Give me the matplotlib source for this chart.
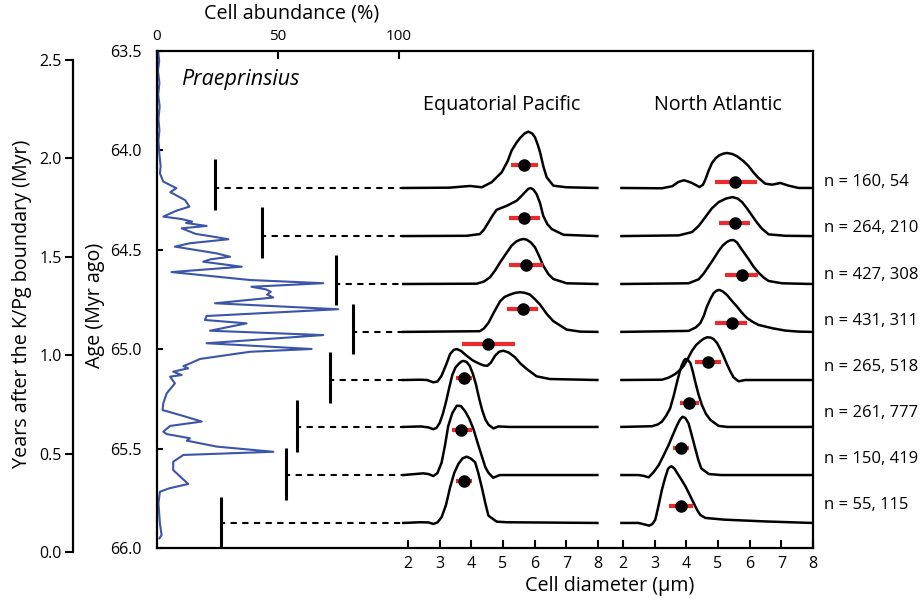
import numpy as np
import matplotlib
matplotlib.use("Agg")
import matplotlib.pyplot as plt

plt.rcParams['font.family'] = ['Open Sans', 'DejaVu Sans']

# --- abundance record (left panel) ---
abund_age = [63.50, 63.55, 63.60, 63.66, 63.72, 63.78, 63.84, 63.90, 63.95, 64.02,
             64.08, 64.115, 64.157, 64.190, 64.210, 64.250, 64.283, 64.303, 64.333,
             64.345, 64.358, 64.365, 64.380, 64.392, 64.420, 64.434, 64.447, 64.467,
             64.484, 64.518, 64.535, 64.548, 64.560, 64.585, 64.612, 64.652, 64.668,
             64.686, 64.699, 64.711, 64.725, 64.740, 64.769, 64.799, 64.833, 64.853,
             64.870, 64.907, 64.929, 64.970, 64.999, 65.013, 65.049, 65.068, 65.085,
             65.096, 65.113, 65.130, 65.138, 65.172, 65.222, 65.272, 65.306, 65.336,
             65.364, 65.386, 65.415, 65.427, 65.448, 65.460, 65.490, 65.516, 65.532,
             65.566, 65.608, 65.678, 65.700, 65.717, 65.775, 65.876, 65.935, 65.951]
abund_pct = [0.5, 0.9, 0.4, 1.0, 0.5, 1.1, 0.6, 1.0, 0.6, 1.0,
             1.5, 1.2, 2.6, 8.0, 5.5, 11.6, 13.4, 8.1, 2.6,
             10.0, 14.5, 12.0, 20.5, 10.2, 16.0, 23.3, 29.5, 13.6,
             7.4, 24.7, 30.2, 22.0, 19.1, 35.0, 6.0, 38.4, 68.7,
             39.0, 45.0, 47.0, 45.5, 48.0, 24.0, 74.9, 20.5, 19.8,
             37.0, 21.9, 68.7, 20.5, 63.9, 38.4, 17.8, 14.3, 10.9,
             12.9, 6.7, 10.2, 5.4, 7.4, 4.0, 2.6, 2.3, 10.9,
             18.5, 5.4, 2.6, 4.0, 13.6, 12.3, 24.7, 48.1, 10.9,
             6.7, 6.7, 12.9, 5.0, 1.2, 0.6, 1.2, 1.9, 1.0]

# --- samples ---
sample_age = [64.189, 64.431, 64.672, 64.913, 65.155, 65.391, 65.633, 65.874]
sample_abund = [24.0, 43.4, 74.0, 81.0, 71.5, 57.8, 53.3, 26.4]
bar_top = [64.043, 64.285, 64.526, 64.773, 65.014, 65.256, 65.497, 65.743]
bar_bot = [64.300, 64.541, 64.778, 65.024, 65.271, 65.517, 65.759, 66.000]
n_labels = ["n = 160, 54", "n = 264, 210", "n = 427, 308", "n = 431, 311",
            "n = 265, 518", "n = 261, 777", "n = 150, 419", "n = 55, 115"]

# --- size distributions, Equatorial Pacific (diameter um, density a.u.) ---
ep_x = [
    [1.85, 3.3, 3.96, 4.33, 4.64, 4.96, 5.15, 5.27, 5.42, 5.54, 5.68, 5.80, 5.92, 6.01, 6.10, 6.17, 6.28, 6.38, 6.59, 7.0, 7.98],
    [1.85, 3.85, 4.27, 4.40, 4.54, 4.68, 4.80, 5.12, 5.43, 5.58, 5.69, 5.80, 5.87, 5.96, 6.06, 6.17, 6.27, 6.40, 6.54, 6.91, 7.98],
    [1.85, 4.17, 4.40, 4.59, 4.75, 4.91, 5.10, 5.27, 5.42, 5.54, 5.65, 5.75, 5.88, 6.01, 6.14, 6.27, 6.43, 6.59, 7.01, 7.98],
    [1.85, 4.27, 4.40, 4.54, 4.72, 4.91, 5.05, 5.22, 5.38, 5.54, 5.70, 5.85, 6.00, 6.17, 6.38, 6.59, 7.01, 7.43, 7.98],
    [1.85, 2.38, 2.60, 2.80, 2.93, 3.06, 3.20, 3.33, 3.44, 3.54, 3.68, 3.85, 4.05, 4.27, 4.40, 4.51, 4.62, 4.75, 4.88, 5.01, 5.18, 5.38, 5.55, 5.75, 6.06, 6.48, 7.98],
    [1.85, 2.4, 2.65, 2.8, 2.9, 3.0, 3.1, 3.2, 3.3, 3.4, 3.5, 3.6, 3.68, 3.75, 3.85, 3.95, 4.05, 4.15, 4.25, 4.35, 4.45, 4.55, 4.7, 4.85, 5.2, 7.98],
    [1.85, 2.48, 2.65, 2.80, 2.93, 3.06, 3.17, 3.27, 3.40, 3.54, 3.67, 3.80, 3.94, 4.07, 4.20, 4.33, 4.44, 4.54, 4.69, 4.90, 7.98],
    [1.85, 2.38, 2.65, 2.80, 2.93, 3.06, 3.20, 3.33, 3.46, 3.59, 3.72, 3.85, 3.98, 4.12, 4.22, 4.33, 4.44, 4.54, 4.80, 5.12, 7.98],
]
ep_h = [
    [0, 0.3, 2, 0.7, 5.7, 15.7, 27, 37.3, 45, 50, 54.5, 56.3, 54.5, 50.7, 43, 35.7, 21, 10.7, 2.3, 0.7, 0],
    [0, 0.3, 2, 6.5, 13.7, 21, 26.3, 30.3, 35.3, 40, 43.7, 47.3, 48, 46.5, 42, 33, 20.3, 12, 7, 1.3, 0],
    [0, 0.3, 2.5, 6.7, 13.5, 21.7, 30.5, 38.3, 42.5, 44.3, 45, 44.3, 41.5, 36.7, 28, 18.3, 10, 5, 0.7, 0],
    [0, 0.7, 3.5, 9, 20, 30.7, 35, 37.3, 39, 39.7, 39, 37.3, 33, 27.3, 18, 10.7, 2.3, 0.3, 0],
    [0, 0.3, 0, -2.3, -1.5, 4.3, 15, 26, 30, 31, 29, 24.3, 19.5, 16, 14.5, 14.3, 17.5, 24.3, 28.3, 29.3, 27.5, 22.7, 16.5, 11, 3.7, 1, 0],
    [0, 0.5, -0.5, -2.3, -1, 4, 13, 25, 39, 52, 59.5, 63, 65.3, 66, 65, 61, 53, 42, 28, 16, 7, 2, -1.5, 0.5, 0, 0],
    [0, 1.7, 1.0, -1, 2, 12.3, 30, 49, 62, 69.3, 69, 64, 56, 45.7, 32, 19, 8, 2.3, -2.7, 0, 0],
    [0, 0.7, 0.5, -1, 0.5, 5.7, 18, 35.7, 50, 59, 64.5, 66.3, 64.5, 60.7, 50, 35.7, 20, 7.3, 1.3, 0.7, 0],
]
ep_mean = [5.67, 5.67, 5.72, 5.64, 4.54, 3.77, 3.66, 3.77]
ep_lo = [5.25, 5.20, 5.20, 5.12, 3.69, 3.52, 3.38, 3.52]
ep_hi = [6.12, 6.17, 6.25, 6.12, 5.38, 4.01, 4.01, 4.01]
ep_dot_h = [23.3, 18.3, 19.3, 23.0, 36.0, 49.3, 44.7, 41.7]

# --- size distributions, North Atlantic ---
na_x = [
    [1.95, 3.23, 3.55, 3.75, 3.92, 4.05, 4.18, 4.41, 4.52, 4.60, 4.70, 4.81, 4.92, 5.02, 5.15, 5.28, 5.45, 5.60, 5.80, 5.97, 6.12, 6.28, 6.49, 6.71, 6.97, 7.23, 7.55, 7.97],
    [1.95, 3.76, 4.18, 4.40, 4.60, 4.80, 5.02, 5.25, 5.46, 5.62, 5.76, 5.92, 6.07, 6.23, 6.39, 6.60, 7.13, 7.97],
    [1.95, 4.07, 4.39, 4.55, 4.71, 4.87, 5.02, 5.15, 5.28, 5.39, 5.49, 5.60, 5.71, 5.84, 5.97, 6.12, 6.28, 6.44, 6.60, 7.02, 7.97],
    [1.95, 4.07, 4.30, 4.44, 4.55, 4.65, 4.76, 4.86, 4.95, 5.04, 5.15, 5.28, 5.44, 5.60, 5.76, 5.92, 6.10, 6.28, 6.71, 7.13, 7.55, 7.97],
    [1.95, 3.23, 3.45, 3.65, 3.80, 3.92, 4.05, 4.18, 4.31, 4.44, 4.55, 4.65, 4.76, 4.86, 4.97, 5.07, 5.18, 5.28, 5.39, 5.49, 5.65, 5.86, 7.97],
    [1.95, 2.92, 3.10, 3.23, 3.36, 3.49, 3.60, 3.71, 3.79, 3.86, 3.92, 3.97, 4.05, 4.13, 4.20, 4.28, 4.38, 4.49, 4.62, 4.76, 5.02, 5.3, 7.97],
    [1.95, 2.49, 2.65, 2.81, 2.97, 3.13, 3.28, 3.44, 3.58, 3.71, 3.80, 3.88, 3.97, 4.07, 4.17, 4.28, 4.38, 4.47, 4.71, 5.1, 7.97],
    [1.95, 2.49, 2.68, 2.83, 2.93, 3.02, 3.12, 3.23, 3.33, 3.42, 3.48, 3.53, 3.62, 3.71, 3.84, 3.97, 4.10, 4.23, 4.34, 4.44, 4.6, 5.2, 6.5, 7.97],
]
na_h = [
    [0, -0.3, 1.7, 6, 7.7, 6.5, 5, 1, 3, 8.3, 17, 25, 29.5, 32.3, 34.2, 35, 34, 31.7, 27, 21.7, 15.5, 10, 4.3, 3.3, 5, 2.3, 0, 0],
    [0, 0.7, 4, 10.5, 19, 27.5, 34, 37.5, 39, 37.5, 34, 27.5, 20.7, 13.5, 7.3, 1.7, 0.3, 0],
    [0, 0.7, 4.7, 10.5, 18, 25.5, 33, 38.5, 42, 43.7, 44, 41.5, 36.3, 30.5, 24.7, 17.5, 11.3, 6.5, 3, 0.7, 0],
    [0, 1, 4.5, 8.7, 16, 25.3, 33, 38.7, 41.2, 42, 40.5, 37, 31, 25.3, 19, 13.7, 10, 7, 3.7, 1.3, 0.3, 0],
    [0, 0.3, 2.5, 6, 10, 14.3, 21.5, 29.3, 35, 38.7, 41.3, 42.7, 42.5, 41, 37, 31, 23.5, 16, 8.5, 2.7, -1.3, 0, 0],
    [0, 0.7, 2.5, 5.3, 11, 18.7, 31, 45.3, 55, 62, 66, 68, 67, 63.7, 56, 45.3, 33, 22, 13, 7, 1, 0, 0],
    [0, 0, -0.8, -2.3, 3, 10, 19.5, 30, 40.5, 50, 55.5, 58.3, 57, 51.7, 40, 26.7, 15, 6.7, 1, 0, 0],
    [0, 0, -1.5, -2.7, -1, 3.3, 17, 33.3, 45, 54, 56, 56.7, 54.5, 50, 43.5, 36.7, 28.5, 20, 13, 8, 5, 3.3, 1.5, 0],
]
na_mean = [5.55, 5.53, 5.76, 5.44, 4.68, 4.09, 3.82, 3.83]
na_lo = [4.92, 5.04, 5.23, 4.92, 4.28, 3.81, 3.57, 3.46]
na_hi = [6.23, 6.00, 6.25, 5.92, 5.11, 4.39, 4.07, 4.20]
na_dot_h = [6.0, 13.3, 9.3, 8.7, 18.3, 23.7, 27.3, 17.3]

dens_scale = 1 / 198.8   # Myr per density unit on the age axis

blue = '#3b55a8'
red = '#ec2a2e'
tick_fs = 11.5
label_fs = 14.2

fig = plt.figure(figsize=(9.22, 6.01), dpi=100)
W, H = 922.0, 601.0

# main panel (age vs abundance)
ax = fig.add_axes([157 / W, 1 - 548 / H, 656 / W, 497 / H])
ax.set_xlim(0, 656 / 2.42)
ax.set_ylim(66.0, 63.5)
ax.xaxis.set_ticks_position('top')
ax.set_xticks([0, 50, 100])
ax.set_yticks([63.5, 64.0, 64.5, 65.0, 65.5, 66.0])
ax.set_yticklabels(['%.1f' % v for v in ax.get_yticks()])
ax.tick_params(axis='x', direction='in', length=6, width=1.5, labelsize=11, pad=5)
ax.tick_params(axis='y', direction='in', length=4, width=1.5, labelsize=tick_fs, pad=11)
for s in ax.spines.values():
    s.set_linewidth(1.6)

ax.plot(abund_pct, abund_age, color=blue, lw=1.5)

# where the size panels start, in abundance units
x_end = (403 - 157) / 2.42
for a, x, t, b in zip(sample_age, sample_abund, bar_top, bar_bot):
    ax.plot([x, x], [t, b], color='k', lw=2.2, solid_capstyle='butt')
    ax.plot([x, x_end], [a, a], color='k', lw=1.5, ls=(1, (3, 2.6)))

fig.text(292 / W, 1 - 14 / H, 'Cell abundance (%)', fontsize=label_fs, ha='center', va='center')
fig.text(95 / W, 1 - 305 / H, 'Age (Myr ago)', rotation=90, fontsize=label_fs,
         ha='center', va='center')
fig.text(181 / W, 1 - 79 / H, 'Praeprinsius', fontsize=15.5, style='italic',
         va='center', ha='left')

# years-after-boundary axis
ay = fig.add_axes([73 / W, 1 - 552 / H, 0.001, 492 / H])
ay.set_ylim(0, 2.5)
ay.set_yticks([0, 0.5, 1.0, 1.5, 2.0, 2.5])
ay.set_yticklabels(['%.1f' % v for v in ay.get_yticks()])
ay.set_xticks([])
ay.patch.set_visible(False)
for k in ['top', 'right', 'bottom']:
    ay.spines[k].set_visible(False)
ay.spines['left'].set_linewidth(1.6)
ay.tick_params(axis='y', direction='out', length=6, width=1.5, labelsize=tick_fs, pad=2)
fig.text(22 / W, 1 - 304 / H, 'Years after the K/Pg boundary (Myr)', rotation=90,
         fontsize=label_fs, ha='center', va='center')

# size-distribution panels
panels = [(408, ep_x, ep_h, ep_mean, ep_lo, ep_hi, ep_dot_h, 'Equatorial Pacific', 502),
          (623, na_x, na_h, na_mean, na_lo, na_hi, na_dot_h, 'North Atlantic', 718)]
for left, xs, hs, means, los, his, dhs, title, tx in panels:
    ap = fig.add_axes([left / W, 1 - 548 / H, 190 / W, 497 / H])
    ap.set_xlim(2, 8)
    ap.set_ylim(66.0, 63.5)
    ap.patch.set_visible(False)
    for s in ap.spines.values():
        s.set_visible(False)
    ap.set_yticks([])
    ap.set_xticks(range(2, 9))
    ap.tick_params(axis='x', direction='in', length=6, width=1.5, labelsize=tick_fs, pad=6)
    for a, x, h, m, lo, hi, dh in zip(sample_age, xs, hs, means, los, his, dhs):
        ap.plot(x, [a - v * dens_scale for v in h], color='k', lw=1.8, clip_on=False)
        yd = a - dh * dens_scale
        ap.plot([lo, hi], [yd, yd], color=red, lw=3, solid_capstyle='butt', zorder=3)
        ap.plot([m], [yd], 'o', color='k', ms=8, zorder=4)
    fig.text(tx / W, 1 - 105 / H, title, fontsize=label_fs, ha='center', va='center')
    if left == 623:
        for i, (a, lab) in enumerate(zip(sample_age, n_labels)):
            ap.text(8.35, a - 0.03 - 0.0085 * i, lab, fontsize=12, ha='left',
                    va='center', clip_on=False)

fig.text(610 / W, 1 - 586 / H, 'Cell diameter (\u03bcm)', fontsize=label_fs, ha='center', va='center')

fig.savefig('out.png', dpi=100)
